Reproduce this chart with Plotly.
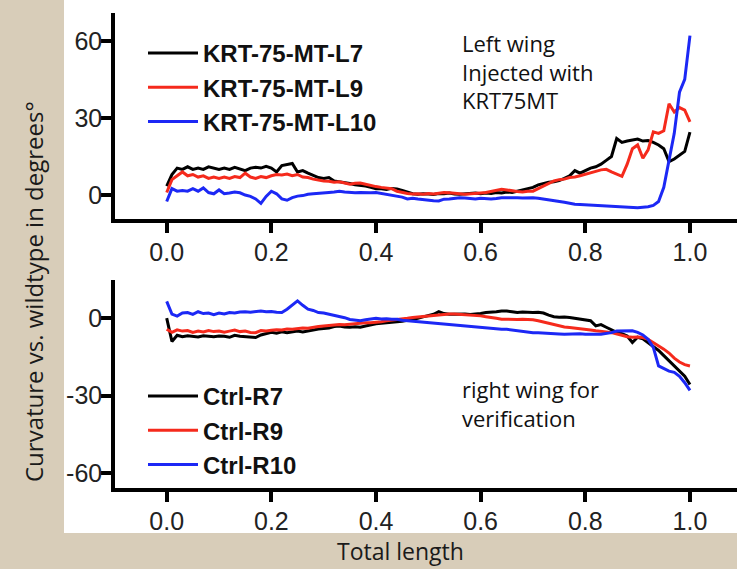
import plotly.graph_objects as go

W, H = 737, 569

# x positions (fraction of total length), 0.00 .. 1.00 step 0.01
x_pos = [round(i * 0.01, 2) for i in range(101)]

# Top panel: left wing injected with KRT75MT
krt_L7 = [3.5, 8, 10.5, 10, 11, 10, 10.5, 10, 11, 10.5,
          10, 10.5, 10, 10.8, 10.2, 9.5, 10.5, 10.8, 10.5, 11.2,
          10.5, 9, 11.5, 12, 12.3, 9, 9.5, 8.5, 7.5, 6.8,
          6.5, 6.8, 5.5, 5.2, 5, 4.5, 4, 3.8, 3.5, 3,
          2.5, 2.5, 2.2, 2.6, 2.4, 1.8, 1, 0.5, 0.3, 0.5,
          0.4, 0.2, 0.6, 0.5, 0.8, 0.4, 0.3, 0.5, 0.6, 0.8,
          0.5, 0.8, 0.6, 1, 0.8, 1.2, 1, 1.5, 1.8, 2.4,
          3, 4, 4.5, 5, 5.2, 5.6, 6.5, 7.5, 9.5, 8.5,
          9.5, 10.5, 11, 12, 13.5, 15, 22, 20.5, 21, 21.5,
          21.8, 21, 21.2, 20.5, 19.5, 18, 13, 14, 15.5, 17,
          24.5]
krt_L9 = [1, 6, 7.5, 9, 7.5, 8, 7, 7.5, 6.5, 7,
          6.5, 7, 6.5, 7.2, 6.8, 8.5, 7, 6.5, 7.2, 6.8,
          7.5, 8, 7.8, 8.2, 7.5, 8, 7, 6.8, 6.2, 5.8,
          5.5, 5.4, 5, 5.2, 4.6, 4.2, 4.6, 4.7, 4.2, 3.6,
          3.3, 3, 2.8, 2.5, 1.5, 1, 0.6, 0.4, 0.5, 0.3,
          0.6, 0.4, 0.8, 1, 0.9, 0.6, 0.5, 0.3, 0.4, 0.6,
          0.8, 1, 1.5, 2, 2.3, 2, 1.6, 1.4, 1.2, 1.5,
          1.5, 2.5, 3.5, 4.5, 5.5, 6, 6.2, 6.8, 7, 7.5,
          8, 8.5, 9.2, 9.8, 10, 9, 8, 7.3, 12, 18,
          19.5, 14.3, 17.6, 24.6, 24, 25, 35.5, 32.3, 34, 33,
          28.5]
krt_L10 = [-2.5, 2.5, 1.5, 1.8, 1.5, 2.5, 1.5, 2.8, 1, 0.5,
           2, 0.5, 0.8, 1.2, 0.9, 0, -0.5, -1.5, -3.2, -0.5,
           1.5, 0.5, -1.5, -2, -1, -0.4, -0.2, 0.3, 0.5, 0.6,
           0.9, 1, 1.2, 1.5, 1.2, 1, 0.9, 1, 0.9, 0.9,
           1, 0.6, 0.2, -0.2, -0.4, -0.8, -1.5, -1.2, -1.5, -1.8,
           -2, -2.2, -2.3, -1.6, -1.5, -1.2, -1, -1.1, -1.3, -1.5,
           -1.2, -1.4, -1.5, -1.3, -1, -1, -0.9, -1, -1.1, -1,
           -1, -1.2, -1.5, -1.8, -2, -2.3, -2.8, -3.2, -3.6, -3.7,
           -3.8, -3.9, -4, -4, -4.1, -4.2, -4.5, -4.6, -4.7, -4.8,
           -4.9, -4.7, -4.5, -4, -2.5, 3, 14, 24, 40, 45,
           62]

# Bottom panel: right wing (control)
ctrl_R7 = [0, -9, -6.6, -7.2, -6.8, -7, -7.3, -6.8, -7, -7.2,
           -6.9, -7, -7.4, -6.6, -7, -7.2, -7.4, -7.5, -6.5, -6,
           -5.5, -5.8, -5.3, -5.6, -5.2, -5, -5.3, -4.9, -4.5, -4.2,
           -4, -3.8, -3.2, -3, -3.4, -3.5, -3.3, -3.5, -3, -2.5,
           -2.2, -2, -1.8, -1.6, -1.6, -1.2, -0.8, -0.5, 0, 0.5,
           1, 1.5, 2.5, 1.8, 1.5, 1.6, 1.5, 1.6, 1.4, 1.5,
           1.8, 2.2, 2.3, 2.5, 2.8, 2.8, 2.5, 2.2, 2.4, 2.2,
           2.2, 2.3, 2, 1.2, 0.6, 0.4, 0.5, 0.3, 0, -0.5,
           -0.8, -1, -3, -2.5, -3.5, -4.5, -5.5, -6, -6.9, -9.4,
           -7.4, -8, -9.5, -11, -12.5, -14.5, -16.6, -18.5, -20.5, -22.5,
           -25.7]
ctrl_R9 = [-4.3, -5.5, -4.5, -5, -4.8, -5.5, -5, -5.3, -4.8, -5.2,
           -5, -5.4, -5, -4.6, -5.2, -5, -5.5, -5.6, -4.8, -5,
           -4.7, -4.5, -4.6, -4.2, -4.3, -4, -3.8, -3.9, -3.5, -3.2,
           -3, -2.8, -2.6, -2.4, -2.5, -2.3, -2.2, -2, -1.8, -1.8,
           -1.7, -1.4, -1, -0.8, -0.6, -0.4, 0, 0.3, 0.5, 0.8,
           0.9, 1.2, 1.4, 1.5, 1.6, 1.6, 1.5, 1.4, 1.2, 1,
           0.9, 0.6, 0.4, 0, -0.4, -0.5, -0.4, -0.5, -0.4, -0.5,
           -0.6, -1, -1.5, -2, -2.5, -3, -3.4, -3.6, -3.8, -4,
           -4.3, -4.6, -4.9, -5, -5.3, -5.6, -6, -6.6, -7.2, -7.4,
           -7.3, -7.5, -8.2, -9.5, -10.5, -12, -13.5, -15.5, -17, -18,
           -18.5]
ctrl_R10 = [6.5, 1.6, 0.8, 2, 2.2, 1.5, 2.5, 1.8, 2, 1.4,
            2, 1.6, 2.2, 2, 2.4, 2.5, 2.3, 2.6, 2.8, 2.5,
            2.6, 2.3, 2.2, 3.5, 5, 6.7, 5, 3.5, 3, 2.2,
            2, 1.6, 1, 0.6, 0.2, -0.5, -0.8, -1, -0.6, -0.2,
            0, -0.3, -0.2, -0.4, -0.4, -0.8, -1, -1.2, -1.4, -1.6,
            -1.7, -2, -2.2, -2.4, -2.6, -2.8, -3, -3, -3.2, -3.4,
            -3.6, -3.8, -4, -4.1, -4.3, -4.3, -4.6, -4.8, -5, -5.3,
            -5.6, -5.6, -5.8, -5.9, -6, -6.1, -6.2, -6.1, -6.2, -6,
            -6.2, -6.3, -6.2, -6.2, -6, -5.6, -5, -4.9, -4.8, -4.9,
            -5.5, -6.5, -8.2, -11.3, -18.5, -19.5, -20.5, -21, -22.5, -25,
            -28]

top_names = ["KRT-75-MT-L7", "KRT-75-MT-L9", "KRT-75-MT-L10"]
bottom_names = ["Ctrl-R7", "Ctrl-R9", "Ctrl-R10"]
x_ticks = [0.0, 0.2, 0.4, 0.6, 0.8, 1.0]
x_tick_text = ["0.0", "0.2", "0.4", "0.6", "0.8", "1.0"]
top_y_ticks = [0, 30, 60]
top_y_text = ["0", "30", "60"]
bottom_y_ticks = [-60, -30, 0]
bottom_y_text = ["-60", "-30", "0"]

colors = ["#000000", "#f52a1c", "#1c28f5"]


def px_x(p):
    return p / W


def px_y(p):
    return 1 - p / H


fig = go.Figure()
for i, (name, ys) in enumerate(zip(top_names, [krt_L7, krt_L9, krt_L10])):
    fig.add_trace(go.Scatter(x=x_pos, y=ys, mode="lines", name=name,
                             line=dict(color=colors[i], width=3),
                             xaxis="x", yaxis="y", legend="legend",
                             legendgroup="t%d" % i))
for i, (name, ys) in enumerate(zip(bottom_names, [ctrl_R7, ctrl_R9, ctrl_R10])):
    fig.add_trace(go.Scatter(x=x_pos, y=ys, mode="lines", name=name,
                             line=dict(color=colors[i], width=3),
                             xaxis="x2", yaxis="y2", legend="legend2",
                             legendgroup="b%d" % i))

tick_font = dict(family="Liberation Sans, Arial, sans-serif", size=25, color="#222")
axis_common = dict(showline=True, linecolor="black", linewidth=3.5,
                   ticks="outside", ticklen=10, tickwidth=3.5, tickcolor="black",
                   showgrid=False, zeroline=False, tickfont=tick_font)

xdom = [px_x(115), 1.0]
xr = [-0.0988, 1.0899]
leg_font = dict(family="Liberation Sans, Arial, sans-serif", size=24,
                color="#111", weight="bold")
fig.update_layout(
    width=W, height=H,
    margin=dict(l=0, r=0, t=0, b=0),
    paper_bgcolor="#d8cdb9",
    plot_bgcolor="white",
    xaxis=dict(domain=xdom, range=xr, anchor="y", tickvals=x_ticks,
               ticktext=x_tick_text, ticklabelstandoff=-2, **axis_common),
    yaxis=dict(domain=[px_y(219), px_y(13)], range=[-9.3, 70.8], anchor="x",
               tickvals=top_y_ticks, ticktext=top_y_text, ticklabelstandoff=-6,
               **axis_common),
    xaxis2=dict(domain=xdom, range=xr, anchor="y2", tickvals=x_ticks,
                ticktext=x_tick_text, ticklabelstandoff=-2, **axis_common),
    yaxis2=dict(domain=[px_y(488), px_y(280)], range=[-65.8, 14.8], anchor="x2",
                tickvals=bottom_y_ticks, ticktext=bottom_y_text, ticklabelstandoff=-6,
                **axis_common),
    legend=dict(x=px_x(143), y=px_y(31), xanchor="left", yanchor="top",
                bgcolor="rgba(0,0,0,0)", itemwidth=50, tracegroupgap=0,
                traceorder="normal", font=leg_font),
    legend2=dict(x=px_x(143), y=px_y(374), xanchor="left", yanchor="top",
                 bgcolor="rgba(0,0,0,0)", itemwidth=50, tracegroupgap=0,
                 traceorder="normal", font=leg_font),
    showlegend=True,
)

# white panel behind the chart
fig.add_shape(type="rect", xref="paper", yref="paper",
              x0=px_x(64), x1=1.0, y0=px_y(533), y1=1.0,
              fillcolor="white", line=dict(width=0), layer="below")

ann_font = dict(family="Open Sans, sans-serif", size=22, color="#111")
fig.add_annotation(text="Left wing<br>Injected with<br>KRT75MT", xref="paper", yref="paper",
                   x=px_x(460), y=px_y(72), xanchor="left", yanchor="middle",
                   align="left", showarrow=False, font=ann_font)
fig.add_annotation(text="right wing for<br>verification", xref="paper", yref="paper",
                   x=px_x(460), y=px_y(403), xanchor="left", yanchor="middle",
                   align="left", showarrow=False, font=ann_font)

fig.add_annotation(text="Curvature vs. wildtype in degrees°", xref="paper", yref="paper",
                   x=px_x(33), y=px_y(292), xanchor="center", yanchor="middle",
                   textangle=-90, showarrow=False,
                   font=dict(family="Open Sans, sans-serif", size=24, color="#1a1a1a"))
fig.add_annotation(text="Total length", xref="paper", yref="paper",
                   x=px_x(400), y=px_y(551), xanchor="center", yanchor="middle",
                   showarrow=False,
                   font=dict(family="Open Sans, sans-serif", size=23, color="#1a1a1a"))

fig.write_html("out.html", config={"displayModeBar": False},
               post_script="document.body.style.margin='0';")
